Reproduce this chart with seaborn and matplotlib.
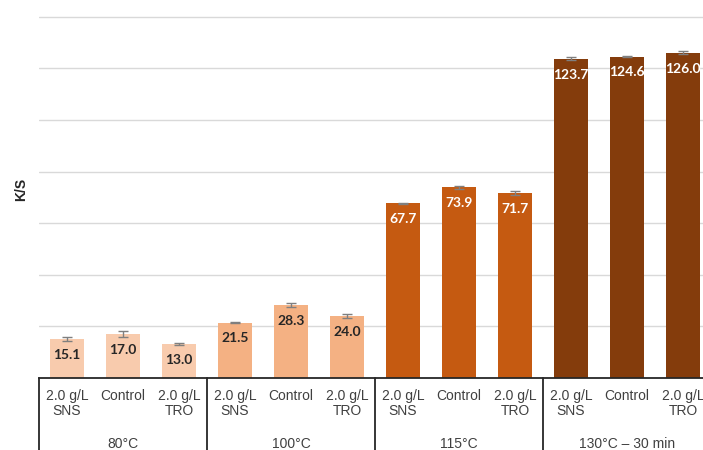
import matplotlib
matplotlib.use("Agg")
import matplotlib.pyplot as plt
import matplotlib.transforms as mtransforms
import seaborn as sns
import pandas as pd
import numpy as np

# Dyeing temperatures (groups) and treatments within each group
groups = ["80°C", "100°C", "115°C", "130°C – 30 min"]
treatments = ["2.0 g/L\nSNS", "Control", "2.0 g/L\nTRO"]

# Colour strength (K/S) per group, in treatment order
ks_80 = [15.1, 17.0, 13.0]
ks_100 = [21.5, 28.3, 24.0]
ks_115 = [67.7, 73.9, 71.7]
ks_130 = [123.7, 124.6, 126.0]

# Standard deviations
sd_80 = [0.6, 1.1, 0.4]
sd_100 = [0.3, 0.8, 0.7]
sd_115 = [0.3, 0.7, 0.6]
sd_130 = [0.6, 0.3, 0.6]

group_colors = ["#F8CBAD", "#F4B183", "#C55A11", "#843C0C"]
label_colors = ["#262626", "#262626", "white", "white"]

rows = []
for g, vals, sds in zip(groups, [ks_80, ks_100, ks_115, ks_130],
                        [sd_80, sd_100, sd_115, sd_130]):
    for t, v, s in zip(treatments, vals, sds):
        rows.append({"group": g, "treatment": t, "slot": f"{g}|{t}",
                     "ks": v, "sd": s})
df = pd.DataFrame(rows)

sns.set_theme(style="white")
plt.rcParams["font.family"] = ["Liberation Sans", "DejaVu Sans"]

fig = plt.figure(figsize=(7.03, 4.5), dpi=100)
W, H = 703, 450
ax = fig.add_axes([39 / W, 72 / H, 672 / W, 378 / H])

sns.barplot(data=df, x="slot", y="ks", hue="group", palette=group_colors,
            dodge=False, width=0.59, legend=False, errorbar=None, ax=ax,
            edgecolor="none", saturation=1)

xpos = np.arange(len(df))
ax.errorbar(xpos, df["ks"], yerr=df["sd"], fmt="none", ecolor="#7f7f7f",
            elinewidth=1, capsize=3.5, capthick=1, zorder=3)

ax.set_xlim(-0.5, len(df) - 0.5)
ax.set_ylim(0, 146.5)
ax.set_yticks(np.arange(20, 141, 20))
ax.set_yticklabels([])
ax.tick_params(axis="y", length=0)
ax.yaxis.grid(True, color="#d9d9d9", linewidth=1)
ax.set_axisbelow(True)
for side in ["top", "right", "left"]:
    ax.spines[side].set_visible(False)
ax.spines["bottom"].set_color("#262626")
ax.spines["bottom"].set_linewidth(1.3)

ax.set_xlabel("")
ax.set_xticks([])
ax.set_ylabel("K/S", fontsize=10, fontweight="bold", color="#262626",
              labelpad=4)

# Value labels inside the bars
for i, row in df.iterrows():
    gi = groups.index(row["group"])
    ax.annotate(f"{row['ks']:.1f}", (i, row["ks"]), xytext=(0, -11.5),
                textcoords="offset points", ha="center", va="center",
                fontsize=10, fontweight="bold", family="Lato",
                color=label_colors[gi])

# Two-level category axis below the plot
trans = mtransforms.blended_transform_factory(ax.transData, ax.transAxes)
to_axes = 1 / 378.0
for i, t in enumerate(df["treatment"]):
    ax.text(i, -11 * to_axes, t, transform=trans, ha="center", va="top",
            fontsize=10, color="#404040", linespacing=1.1)
for gi, g in enumerate(groups):
    ax.text(gi * 3 + 1, -66 * to_axes, g, transform=trans, ha="center",
            va="center", fontsize=10, color="#404040")
for b in range(len(groups) + 1):
    ax.plot([b * 3 - 0.5, b * 3 - 0.5], [0, -0.3], transform=trans,
            color="#262626", linewidth=1.3, clip_on=False)

fig.savefig("out.png", dpi=100)
